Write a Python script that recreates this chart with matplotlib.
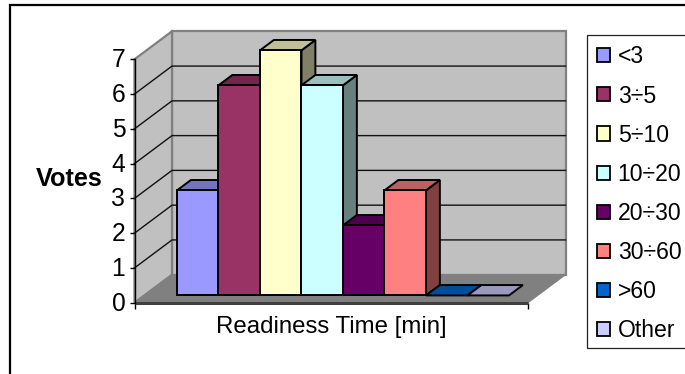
import matplotlib
matplotlib.use("Agg")
import matplotlib.pyplot as plt
from matplotlib.patches import Polygon, Patch, Rectangle
from matplotlib.colors import to_rgb
from matplotlib.transforms import ScaledTranslation

categories = ["<3", "3÷5", "5÷10", "10÷20", "20÷30", "30÷60", ">60", "Other"]
votes = [3, 6, 7, 6, 2, 3, 0, 0]
colors = ["#9999FF", "#993366", "#FFFFCC", "#CCFFFF", "#660066", "#FF8080", "#0066CC", "#CCCCFF"]
y_ticks = [0, 1, 2, 3, 4, 5, 6, 7]

W, H = 685, 374
plt.rcParams["font.family"] = ["Liberation Sans", "DejaVu Sans"]
fig = plt.figure(figsize=(W / 100, H / 100), dpi=100, facecolor="white")

# outer frame: its right and bottom sides fall outside the picture
fig.add_artist(Rectangle((9.5 / W, 1 - 400 / H), 700 / W, (400 - 5.5) / H, transform=fig.transFigure,
                         fill=False, ec="black", lw=1.6, clip_on=False, zorder=-2))
# legend frame: its right side falls outside the picture
fig.add_artist(Rectangle((586.5 / W, 1 - 347.5 / H), 120 / W, (347.5 - 34.5) / H, transform=fig.transFigure,
                         fill=True, fc="white", ec="#222222", lw=0.9, clip_on=False, zorder=-1))

# axes whose lower-left corner is the front corner of the 3D floor
L, R, B, T = 134.5, 528.0, 302.7, 59.3
ax = fig.add_axes([L / W, 1 - B / H, (R - L) / W, (B - T) / H], facecolor="none")
BAR_W = 41.5
ax.set_xlim(0, (R - L) / BAR_W)
ax.set_ylim(0, 7)
x_max = (R - L) / BAR_W

DX = 37.5 / BAR_W
DY = 28.0 / ((B - T) / 7)


def proj(x, v, d):
    return (x + d * DX, v + d * DY)


def poly(pts, **kw):
    p = Polygon(pts, closed=True, clip_on=False, **kw)
    ax.add_patch(p)
    return p


wall = "#C0C0C0"
shade = "#808080"
# back wall, left wall, floor
poly([proj(0, 0, 1), proj(x_max, 0, 1), proj(x_max, 7, 1), proj(0, 7, 1)], fc=wall, ec=shade, lw=1.6, zorder=1)
poly([proj(0, 0, 0), proj(0, 0, 1), proj(0, 7, 1), proj(0, 7, 0)], fc=wall, ec=shade, lw=1.6, zorder=1)
poly([proj(0, 0, 0), proj(x_max, 0, 0), proj(x_max, 0, 1), proj(0, 0, 1)], fc=shade, ec=shade, lw=0.8, zorder=1)
# gridlines
for t in y_ticks[1:-1]:
    ax.plot(*zip(proj(0, t, 0), proj(0, t, 1), proj(x_max, t, 1)), color="#111111", lw=1.0,
            clip_on=False, zorder=2, solid_joinstyle="miter")
# front floor edge
ax.plot([0, x_max], [0, 0], color="#404040", lw=2.2, clip_on=False, zorder=2, solid_capstyle="butt")

# bars
MARGIN = 0.789
D0 = 0.26
D1 = 0.63
SCALE = 1.007
z = 3
for i, (v, c) in enumerate(zip(votes, colors)):
    x0, x1 = MARGIN + i, MARGIN + i + 1
    h = v * SCALE
    rgb = to_rgb(c)
    top = tuple(k * 0.75 for k in rgb)
    side = tuple(k * 0.5 for k in rgb)
    kw = dict(ec="black", lw=1.4, joinstyle="miter")
    if v > 0:
        poly([proj(x1, 0, D0), proj(x1, 0, D1), proj(x1, h, D1), proj(x1, h, D0)], fc=side, zorder=z, **kw)
    poly([proj(x0, h, D0), proj(x1, h, D0), proj(x1, h, D1), proj(x0, h, D1)], fc=top, zorder=z + 1, **kw)
    if v > 0:
        poly([proj(x0, 0, D0), proj(x1, 0, D0), proj(x1, h, D0), proj(x0, h, D0)], fc=c, zorder=z + 2, **kw)
    z += 3

# axes furniture
for s in ["top", "right", "bottom"]:
    ax.spines[s].set_visible(False)
ax.spines["left"].set_linewidth(1.0)
ax.spines["left"].set_zorder(40)
ax.set_yticks(y_ticks)
ax.tick_params(axis="y", length=3.6, width=1.0, labelsize=17.7, pad=3)
shift = ScaledTranslation(0, 1.5 / 100, fig.dpi_scale_trans)
for lab in ax.get_yticklabels():
    lab.set_transform(lab.get_transform() + shift)
ax.set_xticks([0, x_max])
ax.set_xticklabels(["", ""])
ax.tick_params(axis="x", length=4, width=1.0)
ax.get_xticklines()[1].set_color("#808080")
ax.set_xlabel("Readiness Time [min]", fontsize=17.3)
ax.xaxis.set_label_coords((331 - L) / (R - L), -(327 - B) / (B - T))
ax.xaxis.label.set_va("center")
ax.set_ylabel("Votes", fontsize=18.2, fontweight="bold", rotation=0, va="center", ha="center")
ax.yaxis.set_label_coords((69.5 - L) / (R - L), (B - 179) / (B - T))

# legend
handles = [Patch(fc=c, ec="black", lw=1.3) for c in colors]
leg = ax.legend(handles, categories, loc="upper left", bbox_to_anchor=(586.5 / W, 1 - 35 / H),
                bbox_transform=fig.transFigure, borderaxespad=0, frameon=False,
                fontsize=16.6, handlelength=0.56, handleheight=0.56,
                handletextpad=0.34, labelspacing=0.70, borderpad=0.45)
leg.set_zorder(50)

fig.savefig("out.png", dpi=100, facecolor="white")
